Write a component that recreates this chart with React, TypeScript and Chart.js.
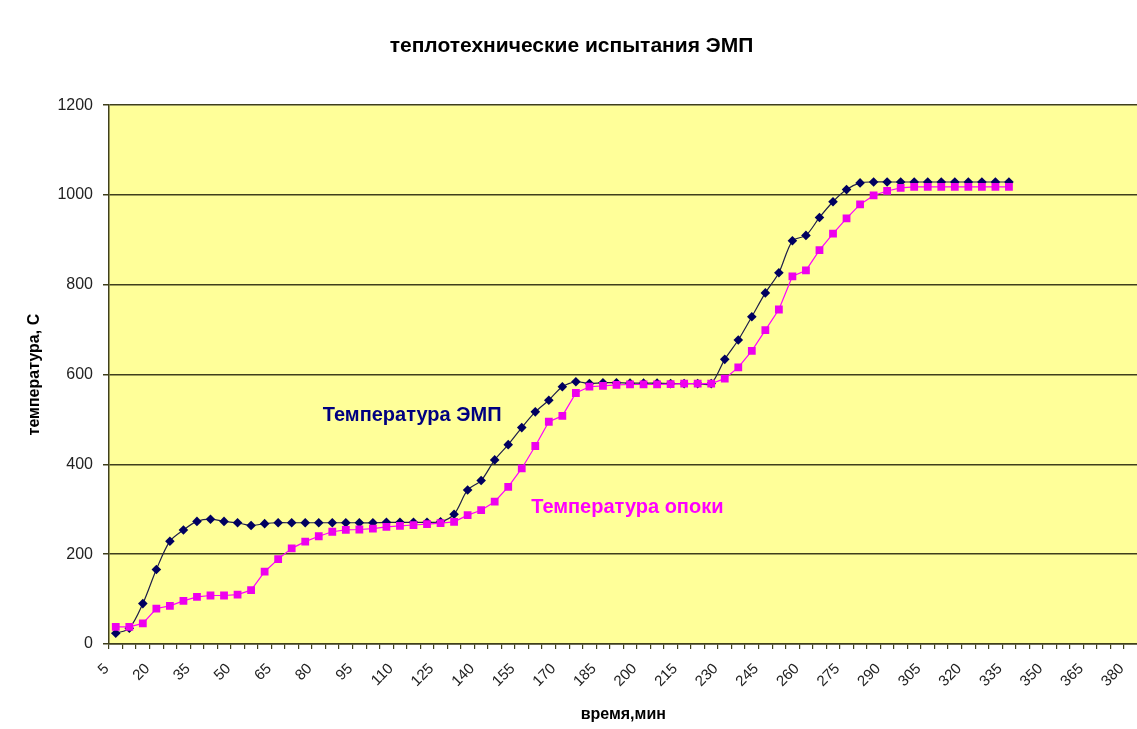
import React, { useEffect, useRef } from "react";
import { Chart, registerables } from "chart.js";

Chart.register(...registerables);

// categories: time, minutes (5 .. 380, step 5)
const timeLabels: string[] = [
  "5","10","15","20","25","30","35","40","45","50","55","60","65","70","75","80","85","90","95","100",
  "105","110","115","120","125","130","135","140","145","150","155","160","165","170","175","180","185","190","195","200",
  "205","210","215","220","225","230","235","240","245","250","255","260","265","270","275","280","285","290","295","300",
  "305","310","315","320","325","330","335","340","345","350","355","360","365","370","375","380",
];

// Температура ЭМП
const empTemp: number[] = [
  24, 35, 90, 166, 229, 254, 273, 278, 273, 270,
  264, 268, 270, 270, 270, 270, 270, 270, 270, 270,
  271, 271, 271, 271, 272, 289, 343, 364, 410, 444,
  482, 517, 543, 573, 584, 580, 582, 582, 581, 581,
  581, 580, 580, 580, 580, 634, 677, 729, 782, 827,
  898, 910, 950, 985, 1012, 1027, 1029, 1029, 1029, 1029,
  1029, 1029, 1029, 1029, 1029, 1029, 1029,
];

// Температура опоки
const flaskTemp: number[] = [
  38, 38, 46, 79, 85, 96, 105, 108, 108, 110,
  120, 161, 189, 213, 228, 240, 250, 254, 255, 257,
  261, 263, 265, 267, 269, 272, 287, 298, 317, 350,
  391, 441, 495, 508, 559, 573, 575, 577, 578, 578,
  578, 579, 580, 580, 580, 591, 616, 653, 699, 745,
  819, 832, 877, 914, 948, 979, 999, 1009, 1016, 1018,
  1018, 1018, 1018, 1018, 1018, 1018, 1018,
];

const yTicks: number[] = [0, 200, 400, 600, 800, 1000, 1200];

// in-chart series captions: [category index, value]
const empCaptionAt: [number, number] = [21.9, 510];
const flaskCaptionAt: [number, number] = [37.8, 303];

const FONT = "'Liberation Sans', Arial, sans-serif";

const plotBg = {
  id: "plotBg",
  beforeDraw(chart: any) {
    const { ctx, chartArea, width, height } = chart;
    ctx.save();
    ctx.fillStyle = "#ffffff";
    ctx.fillRect(0, 0, width, height);
    ctx.fillStyle = "#FFFF99";
    ctx.fillRect(chartArea.left, chartArea.top, chartArea.right - chartArea.left, chartArea.bottom - chartArea.top);
    ctx.restore();
  },
};

const captions = {
  id: "captions",
  afterDatasetsDraw(chart: any) {
    const { ctx, scales } = chart;
    const xs = scales.x;
    const ys = scales.y;
    const px = (idx: number) => {
      const a = xs.getPixelForValue(Math.floor(idx));
      const b = xs.getPixelForValue(Math.floor(idx) + 1);
      return a + (b - a) * (idx - Math.floor(idx));
    };
    ctx.save();
    ctx.font = `bold 20px ${FONT}`;
    ctx.textAlign = "center";
    ctx.textBaseline = "middle";
    ctx.fillStyle = "#000080";
    ctx.fillText("Температура ЭМП", px(empCaptionAt[0]), ys.getPixelForValue(empCaptionAt[1]));
    ctx.fillStyle = "#FF00FF";
    ctx.fillText("Температура опоки", px(flaskCaptionAt[0]), ys.getPixelForValue(flaskCaptionAt[1]));
    ctx.restore();
  },
};

export default function App() {
  const canvasRef = useRef<HTMLCanvasElement | null>(null);

  useEffect(() => {
    if (!canvasRef.current) return;
    const gridColor = "#3f3f1c";
    const chart = new Chart(canvasRef.current, {
      type: "line",
      data: {
        labels: timeLabels,
        datasets: [
          {
            label: "Температура опоки",
            data: flaskTemp,
            borderColor: "#FF00FF",
            backgroundColor: "#EE00EE",
            borderWidth: 1.2,
            pointStyle: "rect",
            pointRadius: 5.5,
            pointBorderWidth: 0,
            tension: 0,
            order: 0,
          },
          {
            label: "Температура ЭМП",
            data: empTemp,
            borderColor: "#20204a",
            backgroundColor: "#000060",
            borderWidth: 1.2,
            pointStyle: "rectRot",
            pointRadius: 4.8,
            pointBorderWidth: 0,
            tension: 0.3,
            order: 1,
          },
        ],
      },
      options: {
        responsive: false,
        animation: false,
        devicePixelRatio: 1,
        layout: { padding: { left: 0, right: 0, top: 0, bottom: 0 } },
        plugins: {
          legend: { display: false },
          tooltip: { enabled: false },
          title: {
            display: true,
            text: "теплотехнические испытания ЭМП",
            color: "#000000",
            font: { family: FONT, size: 21, weight: "bold" },
            padding: { top: 34, bottom: 46 },
          },
        },
        scales: {
          x: {
            type: "category",
            offset: true,
            grid: {
              display: true,
              drawOnChartArea: false,
              drawTicks: true,
              tickLength: 5,
              offset: true,
              color: gridColor,
              lineWidth: 1.2,
            },
            border: { display: true, color: gridColor, width: 1.5 },
            ticks: {
              autoSkip: false,
              maxRotation: 45,
              minRotation: 45,
              padding: 11,
              labelOffset: -9,
              color: "#222222",
              font: { family: FONT, size: 15 },
              callback: (_v: any, i: number) => (i % 3 === 0 ? timeLabels[i] : ""),
            },
            title: {
              display: true,
              text: "время,мин",
              color: "#000000",
              font: { family: FONT, size: 16, weight: "bold" },
              padding: { top: 0, bottom: 5 },
            },
            afterFit: (scale: any) => {
              scale.height = 85;
              scale.paddingRight = 0;
              scale.paddingLeft = 0;
            },
          },
          y: {
            min: 0,
            max: 1200,
            afterBuildTicks: (scale: any) => {
              scale.ticks = yTicks.map((v) => ({ value: v }));
            },
            grid: {
              color: gridColor,
              lineWidth: 1.5,
              drawTicks: true,
              tickLength: 6,
            },
            border: { display: true, color: gridColor, width: 1.5 },
            ticks: {
              padding: 10,
              color: "#222222",
              font: { family: FONT, size: 16 },
              callback: (v: any) => String(v),
            },
            title: {
              display: true,
              text: "температура, С",
              color: "#000000",
              font: { family: FONT, size: 16, weight: "bold" },
              padding: { top: 25, bottom: 0 },
            },
            afterFit: (scale: any) => {
              scale.width = 109;
            },
          },
        },
      },
      plugins: [plotBg, captions],
    });
    return () => chart.destroy();
  }, []);

  return (
    <div style={{ position: "fixed", left: 0, top: 0, width: 1137, height: 729, overflow: "hidden", background: "#ffffff" }}>
      <canvas ref={canvasRef} width={1143} height={729} style={{ display: "block" }} />
    </div>
  );
}
